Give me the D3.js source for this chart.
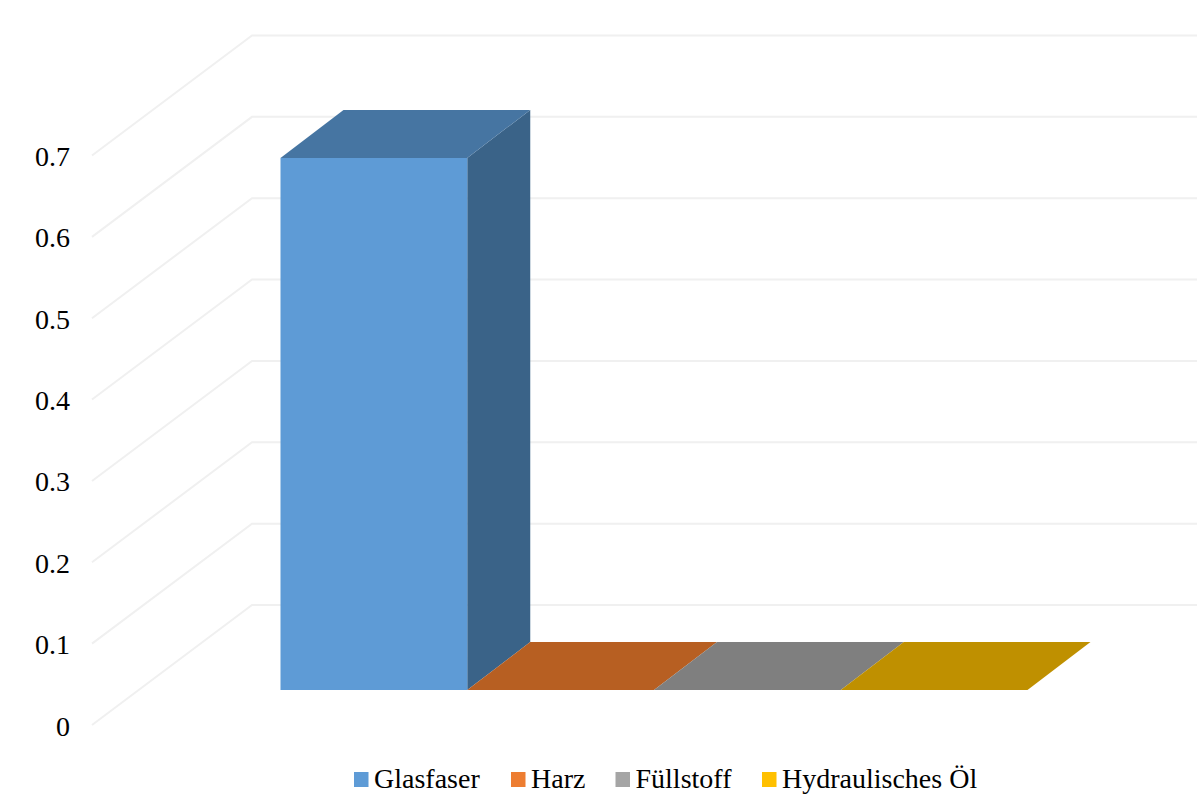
<!DOCTYPE html>
<html><head><meta charset="utf-8">
<script src="https://d3js.org/d3.v7.min.js"></script>
<style>html,body{margin:0;padding:0;background:#fff}svg{display:block}text{font-family:"Liberation Serif",serif;fill:#000}</style>
</head><body><div id="c"></div>
<script>
const categories=["Glasfaser","Harz","Füllstoff","Hydraulisches Öl"];
const values=[0.654,0,0,0];
const ticks=[0,0.1,0.2,0.3,0.4,0.5,0.6,0.7];
const frontColors=["#5e9bd6","#ed7d31","#a5a5a5","#ffc000"];
const topColors=["#4675a2","#b75f22","#7f7f7f","#bf9000"];
const sideColors=["#3a6388","#a0521d","#6e6e6e","#a67d00"];

const W=1197,H=810;
const svg=d3.select("#c").append("svg").attr("width",W).attr("height",H);
// front plane of the floor/wall
const y=d3.scaleLinear().domain([0,0.7]).range([725,155.5]);
const x=d3.scaleBand().domain(categories).range([280.5,1027.5]);
const wallDx=160,wallDy=-120;
const barOffY=-35,barDx=63,barDy=-48;
const pts=a=>a.map(p=>p.join(",")).join(" ");

// gridlines
svg.append("g").selectAll("polyline").data(ticks).join("polyline")
  .attr("fill","none").attr("stroke","#f0f0f0").attr("stroke-width",2)
  .attr("points",d=>pts([[92,y(d)],[92+wallDx,y(d)+wallDy],[W,y(d)+wallDy]]));

// tick labels
svg.append("g").selectAll("text").data(ticks).join("text")
  .attr("x",70).attr("y",d=>y(d)+10.5).attr("text-anchor","end").attr("font-size",28)
  .text(d=>d);

// bars
const bars=svg.append("g").selectAll("g").data(categories).join("g");
bars.each(function(c,i){
  const g=d3.select(this),x0=x(c),x1=x0+x.bandwidth();
  const yb=y(0)+barOffY,yt=y(values[i])+barOffY;
  if(values[i]>0){
    g.append("polygon").attr("fill",sideColors[i])
      .attr("points",pts([[x1,yb],[x1,yt],[x1+barDx,yt+barDy],[x1+barDx,yb+barDy]]));
    g.append("rect").attr("fill",frontColors[i])
      .attr("x",x0).attr("y",yt).attr("width",x1-x0).attr("height",yb-yt);
  }
  g.append("polygon").attr("fill",topColors[i])
    .attr("points",pts([[x0,yt],[x1,yt],[x1+barDx,yt+barDy],[x0+barDx,yt+barDy]]));
});

// legend
const legendSwatchX=[354,511,615.5,762];
const lg=svg.append("g").selectAll("g").data(categories).join("g")
  .attr("transform",(d,i)=>`translate(${legendSwatchX[i]},772)`);
lg.append("rect").attr("width",14.5).attr("height",15).attr("fill",(d,i)=>frontColors[i]);
lg.append("text").attr("x",20).attr("y",15.5).attr("font-size",28).text(d=>d);
</script></body></html>
